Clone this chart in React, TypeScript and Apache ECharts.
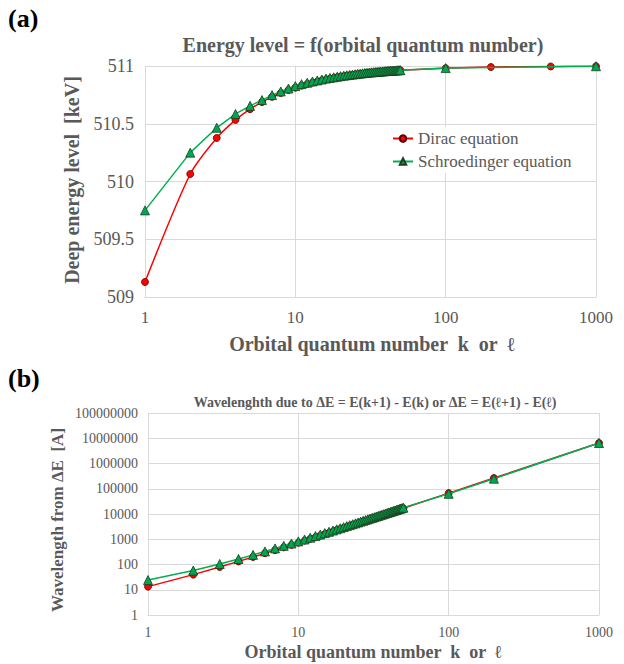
import React, { useEffect, useRef } from "react";
import * as echarts from "echarts";

// ---- Panel (a): energy level vs orbital quantum number ----
const kDirac = [
  1, 2, 3, 4, 5, 6, 7, 8, 9, 10, 11, 12, 13, 14, 15, 16, 17, 18, 19, 20,
  21, 22, 23, 24, 25, 26, 27, 28, 29, 30, 31, 32, 33, 34, 35, 36, 37, 38, 39, 40,
  41, 42, 43, 44, 45, 46, 47, 48, 49, 50, 100, 200, 500, 1000,
];
const eDirac = [
  509.13, 510.065, 510.377, 510.533, 510.626, 510.688, 510.733, 510.766, 510.792, 510.813,
  510.83, 510.844, 510.856, 510.866, 510.875, 510.883, 510.89, 510.896, 510.902, 510.907,
  510.911, 510.915, 510.919, 510.922, 510.925, 510.928, 510.931, 510.933, 510.936, 510.938,
  510.94, 510.942, 510.943, 510.945, 510.947, 510.948, 510.949, 510.951, 510.952, 510.953,
  510.954, 510.955, 510.957, 510.958, 510.958, 510.959, 510.96, 510.961, 510.962, 510.963,
  510.981, 510.991, 510.996, 510.998,
];
const kSchr = [
  1, 2, 3, 4, 5, 6, 7, 8, 9, 10, 11, 12, 13, 14, 15, 16, 17, 18, 19, 20,
  21, 22, 23, 24, 25, 26, 27, 28, 29, 30, 31, 32, 33, 34, 35, 36, 37, 38, 39, 40,
  41, 42, 43, 44, 45, 46, 47, 48, 49, 50, 100, 1000,
];
const eSchr = [
  509.75, 510.25, 510.465, 510.585, 510.655, 510.705, 510.748, 510.78, 510.805, 510.826,
  510.843, 510.855, 510.866, 510.875, 510.883, 510.891, 510.897, 510.902, 510.907, 510.912,
  510.916, 510.92, 510.923, 510.926, 510.929, 510.932, 510.934, 510.937, 510.939, 510.941,
  510.943, 510.945, 510.946, 510.948, 510.949, 510.951, 510.952, 510.953, 510.954, 510.956,
  510.957, 510.958, 510.959, 510.96, 510.96, 510.961, 510.962, 510.963, 510.964, 510.964,
  510.982, 510.998,
];

// ---- Panel (b): wavelength from ΔE ----
const kB = [
  1, 2, 3, 4, 5, 6, 7, 8, 9, 10, 11, 12, 13, 14, 15, 16, 17, 18, 19, 20,
  21, 22, 23, 24, 25, 26, 27, 28, 29, 30, 31, 32, 33, 34, 35, 36, 37, 38, 39, 40,
  41, 42, 43, 44, 45, 46, 47, 48, 49, 50, 100, 200, 1000,
];
const lamDirac = [
  13.3, 39.8, 79.6, 133, 199, 279, 371, 477, 597, 729,
  875, 1034, 1207, 1392, 1591, 1804, 2029, 2268, 2520, 2785,
  3063, 3355, 3660, 3978, 4310, 4654, 5012, 5384, 5768, 6166,
  6577, 7002, 7439, 7890, 8355, 8832, 9323, 9827, 10344, 10875,
  11418, 11975, 12546, 13129, 13726, 14336, 14960, 15596, 16246, 16909,
  67000, 265000, 6500000,
];
const lamSchr = [
  24.2, 57.8, 105, 166, 241, 330, 433, 549, 679, 823,
  981, 1152, 1337, 1536, 1749, 1975, 2216, 2470, 2738, 3019,
  3315, 3624, 3947, 4284, 4634, 4999, 5377, 5769, 6175, 6594,
  7027, 7474, 7935, 8410, 8898, 9400, 9916, 10446, 10990, 11546,
  12117, 12702, 13301, 13914, 14539, 15179, 15833, 16501, 17182, 17877,
  63000, 250000, 6500000,
];

const xTickLabels = ["1", "10", "100", "1000"];
const legendNames = ["Dirac equation", "Schroedinger equation"];

const SERIF = "Liberation Serif";
const GREY = "#595959";
const GRID = "#d9d9d9";
const RED = "#ff0000";
const GREEN = "#00b050";

const pairs = (xs: number[], ys: number[]) => xs.map((x, i) => [x, ys[i]]);

function buildOption() {
  const logFmt = (v: number) => String(Math.round(v));
  const xAxisBase = (gridIndex: number, fontSize: number, margin: number) => ({
    gridIndex,
    type: "log",
    logBase: 10,
    min: 1,
    max: 1000,
    splitNumber: 3,
    axisLine: { show: true, lineStyle: { color: GRID, width: 1 } },
    axisTick: { show: false },
    minorTick: { show: false },
    splitLine: { show: true, lineStyle: { color: GRID, width: 1 } },
    axisLabel: {
      fontFamily: SERIF,
      fontSize,
      color: GREY,
      margin,
      interval: 0,
      formatter: (v: number) => {
        const s = logFmt(v);
        return xTickLabels.includes(s) ? s : "";
      },
    },
  });

  const lineSeries = (
    name: string,
    xi: number,
    data: number[][],
    color: string,
    symbol: string,
    size: number,
    fill: string,
    border: string,
    smooth: number | boolean,
    z: number
  ) => ({
    name,
    type: "line",
    xAxisIndex: xi,
    yAxisIndex: xi,
    data,
    smooth,
    symbol,
    symbolSize: size,
    showAllSymbol: true,
    z,
    lineStyle: { color, width: 1.5 },
    itemStyle: { color: fill, borderColor: border, borderWidth: 0.8 },
    emphasis: { disabled: true },
  });

  const txt = (
    text: string,
    x: number,
    y: number,
    size: number,
    fill: string,
    align: string,
    rotation = 0
  ) => ({
    type: "text",
    x,
    y,
    rotation,
    style: {
      text,
      fontFamily: SERIF,
      fontSize: size,
      fontWeight: "bold",
      fill,
      align,
      verticalAlign: "middle",
    },
  });

  return {
    animation: false,
    backgroundColor: "#ffffff",
    grid: [
      { left: 145, top: 66, width: 451, height: 231, containLabel: false },
      { left: 148, top: 413, width: 451, height: 202, containLabel: false },
    ],
    xAxis: [xAxisBase(0, 17, 12), xAxisBase(1, 14, 10)],
    yAxis: [
      {
        gridIndex: 0,
        type: "value",
        min: 509,
        max: 511,
        interval: 0.5,
        axisLine: { show: false },
        axisTick: { show: false },
        splitLine: { show: true, lineStyle: { color: GRID, width: 1 } },
        axisLabel: { fontFamily: SERIF, fontSize: 18, color: GREY, margin: 11 },
      },
      {
        gridIndex: 1,
        type: "log",
        logBase: 10,
        min: 1,
        max: 100000000,
        splitNumber: 8,
        axisLine: { show: false },
        axisTick: { show: false },
        minorTick: { show: false },
        splitLine: { show: true, lineStyle: { color: GRID, width: 1 } },
        axisLabel: {
          fontFamily: SERIF,
          fontSize: 14,
          color: GREY,
          margin: 10,
          interval: 0,
          formatter: logFmt,
        },
      },
    ],
    legend: {
      data: legendNames,
      orient: "vertical",
      left: 388,
      top: 127,
      itemGap: 6,
      itemWidth: 20,
      itemHeight: 8,
      backgroundColor: "#ffffff",
      padding: [3, 6, 3, 4],
      textStyle: { fontFamily: SERIF, fontSize: 17, color: GREY },
      selectedMode: false,
    },
    series: [
      lineSeries(legendNames[0], 0, pairs(kDirac, eDirac), RED, "circle", 7, RED, "#5a0000", 0.25, 2),
      lineSeries(legendNames[1], 0, pairs(kSchr, eSchr), GREEN, "triangle", 9, "#00a651", "#1e3d1e", false, 3),
      lineSeries(legendNames[0], 1, pairs(kB, lamDirac), RED, "circle", 7, RED, "#5a0000", false, 2),
      lineSeries(legendNames[1], 1, pairs(kB, lamSchr), GREEN, "triangle", 9, "#00a651", "#1e3d1e", false, 3),
    ],
    graphic: [
      txt("(a)", 8, 18, 26, "#000", "left"),
      txt("(b)", 8, 378, 26, "#000", "left"),
      txt("Energy level = f(orbital quantum number)", 363, 45, 20, GREY, "center"),
      txt("Wavelenghth due to ΔE = E(k+1) - E(k) or ΔE = E(ℓ+1) - E(ℓ)", 375, 402, 14, GREY, "center"),
      txt("Orbital quantum number  k  or  ℓ", 372, 344, 20, GREY, "center"),
      txt("Orbital quantum number  k  or  ℓ", 373, 652, 18, GREY, "center"),
      txt("Deep energy level  [keV]", 72, 180, 20, GREY, "center", Math.PI / 2),
      txt("Wavelength from ΔE  [A]", 57, 520, 17, GREY, "center", Math.PI / 2),
    ],
  };
}

export default function App() {
  const ref = useRef<HTMLDivElement>(null);
  useEffect(() => {
    if (!ref.current) return;
    const chart = echarts.init(ref.current, null, { renderer: "svg" });
    chart.setOption(buildOption() as any);
    return () => chart.dispose();
  }, []);
  return (
    <div
      ref={ref}
      style={{ position: "fixed", left: 0, top: 0, width: 624, height: 664, background: "#fff" }}
    />
  );
}
